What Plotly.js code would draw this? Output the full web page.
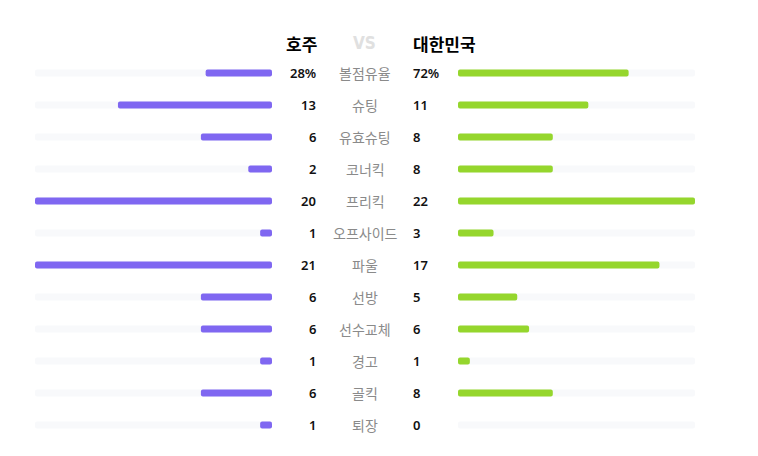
<!DOCTYPE html>
<html>
<head>
<meta charset="utf-8">
<script src="https://cdn.plot.ly/plotly-3.0.1.min.js"></script>
<style>html,body{margin:0;padding:0;background:#fff;}#chart{width:758px;height:456px;}</style>
</head>
<body>
<div id="chart"></div>
<script>
// ---- data ----
const homeTeam = '호주';
const awayTeam = '대한민국';
const categories = ['볼점유율','슈팅','유효슈팅','코너킥','프리킥','오프사이드','파울','선방','선수교체','경고','골킥','퇴장'];
const homeValues = [28, 13, 6, 2, 20, 1, 21, 6, 6, 1, 6, 1];
const awayValues = [72, 11, 8, 8, 22, 3, 17, 5, 6, 1, 8, 0];
const valueSuffix = ['%','','','','','','','','','','',''];
const barScale = [100, 20, 20, 20, 20, 20, 20, 20, 20, 20, 20, 20];

// ---- layout helpers ----
const W = 758, H = 456;
const rowTop = 73, rowStep = 32;
const rows = categories.map((_, i) => i);
const frac = (v, i) => Math.min(v / barScale[i], 1);
const homeFrac = homeValues.map(frac);
const awayFrac = awayValues.map(frac);

const purple = '#7f67f1';
const green = '#95d62d';
const track = '#f8f9fb';
const barW = 7 / rowStep;

const traces = [
  {type:'bar', orientation:'h', y: rows, x: rows.map(() => 1), base: 0, width: barW,
   marker:{color: track, cornerradius: 2}, xaxis:'x', yaxis:'y', hoverinfo:'skip'},
  {type:'bar', orientation:'h', y: rows, x: rows.map(() => 1), base: 0, width: barW,
   marker:{color: track, cornerradius: 2}, xaxis:'x2', yaxis:'y', hoverinfo:'skip'},
  {type:'bar', orientation:'h', y: rows, x: homeFrac.map(f => -f), base: homeFrac, width: barW,
   marker:{color: purple, cornerradius: 2}, xaxis:'x', yaxis:'y', hoverinfo:'skip'},
  {type:'bar', orientation:'h', y: rows, x: awayFrac.map(f => -f), base: awayFrac, width: barW,
   marker:{color: green, cornerradius: 2}, xaxis:'x2', yaxis:'y', hoverinfo:'skip'}
];

const annotations = [];
const fontFam = '"Noto Sans CJK KR", "Noto Sans", sans-serif';
const numFam = '"Noto Sans", "Noto Sans CJK KR", sans-serif';
categories.forEach((c, i) => {
  annotations.push({xref:'paper', yref:'y', x: 318 / W, y: i, xanchor:'right', yanchor:'middle',
    text: homeValues[i] + valueSuffix[i], showarrow:false,
    font:{family: numFam, size: 13, color:'#111', weight: 600}});
  annotations.push({xref:'paper', yref:'y', x: 365 / W, y: i, xanchor:'center', yanchor:'middle',
    text: c, showarrow:false, font:{family: fontFam, size: 14, color:'#8a8a8a'}});
  annotations.push({xref:'paper', yref:'y', x: 411 / W, y: i, xanchor:'left', yanchor:'middle',
    text: awayValues[i] + valueSuffix[i], showarrow:false,
    font:{family: numFam, size: 13, color:'#111', weight: 600}});
});
annotations.push({xref:'paper', yref:'paper', x: 319 / W, y: 1 - 44 / H, xanchor:'right', yanchor:'middle',
  text: homeTeam, showarrow:false, font:{family: fontFam, size: 17, color:'#000', weight: 700}});
annotations.push({xref:'paper', yref:'paper', x: 364 / W, y: 1 - 43 / H, xanchor:'center', yanchor:'middle',
  text: 'VS', showarrow:false, font:{family: '"Liberation Sans Narrow", "DejaVu Sans Condensed", sans-serif', size: 17, color:'#e0e0e0', weight: 700}});
annotations.push({xref:'paper', yref:'paper', x: 411 / W, y: 1 - 44 / H, xanchor:'left', yanchor:'middle',
  text: awayTeam, showarrow:false, font:{family: fontFam, size: 17, color:'#000', weight: 700}});

const layout = {
  width: W, height: H,
  margin: {l:0, r:0, t:0, b:0},
  paper_bgcolor:'#fff', plot_bgcolor:'#fff',
  barmode:'overlay', showlegend:false,
  xaxis: {domain:[35 / W, 272 / W], range:[1, 0], visible:false, fixedrange:true},
  xaxis2:{domain:[458 / W, 695 / W], range:[0, 1], visible:false, fixedrange:true},
  yaxis: {domain:[0, 1], range:[(H - rowTop) / rowStep, -rowTop / rowStep], visible:false, fixedrange:true},
  annotations: annotations
};

Plotly.newPlot('chart', traces, layout, {displayModeBar:false, staticPlot:true});
</script>
</body>
</html>
